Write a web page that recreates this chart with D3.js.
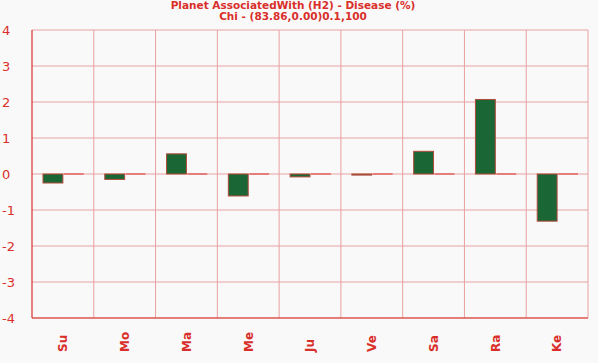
<!DOCTYPE html>
<html>
<head>
<meta charset="utf-8">
<script src="https://cdn.jsdelivr.net/npm/d3@7/dist/d3.min.js"></script>
<style>
  body { margin: 0; background: #f9f9f9; }
  svg { display: block; }
</style>
</head>
<body>
<div id="chart"></div>
<script>
// chart data
const planets = ["Su", "Mo", "Ma", "Me", "Ju", "Ve", "Sa", "Ra", "Ke"];
const diseaseValues = [-0.25, -0.15, 0.56, -0.61, -0.08, -0.03, 0.63, 2.07, -1.31];
const baselineValues = [0, 0, 0, 0, 0, 0, 0, 0, 0];
const yTicks = [-4, -3, -2, -1, 0, 1, 2, 3, 4];
const titleLines = ["Planet AssociatedWith (H2) - Disease (%)", "Chi - (83.86,0.00)0.1,100"];

const width = 598, height = 363;
const margin = {top: 30, right: 10, bottom: 45, left: 32};
const plotW = width - margin.left - margin.right;
const plotH = height - margin.top - margin.bottom;

const red = "#d92f2a";

const svg = d3.select("#chart").append("svg")
  .attr("width", width)
  .attr("height", height)
  .style("font-family", "'DejaVu Sans', Verdana, sans-serif");

svg.append("rect").attr("width", width).attr("height", height).attr("fill", "#f9f9f9");

// title
svg.selectAll(".title")
  .data(titleLines)
  .enter().append("text")
  .attr("x", 293)
  .attr("y", (d, i) => 8.5 + i * 11.5)
  .attr("text-anchor", "middle")
  .attr("font-size", "10.5px")
  .attr("font-weight", "bold")
  .attr("fill", red)
  .text(d => d);

const main = svg.append("g")
  .attr("transform", "translate(" + margin.left + "," + margin.top + ")");

const xScale = d3.scaleBand()
  .domain(planets)
  .range([0, plotW]);

const yScale = d3.scaleLinear()
  .domain([-4, 4])
  .range([plotH, 0]);

// grid lines
main.append("g")
  .selectAll("line")
  .data(yTicks)
  .enter().append("line")
  .attr("x1", 0).attr("x2", plotW)
  .attr("y1", d => yScale(d)).attr("y2", d => yScale(d))
  .attr("stroke", "#eaa0a0")
  .attr("stroke-width", 1);

main.append("g")
  .selectAll("line")
  .data(planets)
  .enter().append("line")
  .attr("x1", d => xScale(d) + xScale.step())
  .attr("x2", d => xScale(d) + xScale.step())
  .attr("y1", 0).attr("y2", plotH)
  .attr("stroke", "#eaa0a0")
  .attr("stroke-width", 1);

// y axis labels (left aligned at the page edge)
svg.append("g")
  .selectAll("text")
  .data(yTicks)
  .enter().append("text")
  .attr("x", 2)
  .attr("y", d => margin.top + yScale(d))
  .attr("dy", "0.36em")
  .attr("font-size", "13px")
  .attr("fill", red)
  .text(d => d);

// bars
const inner = d3.scaleBand()
  .domain(["disease", "base"])
  .range([11, xScale.bandwidth() - 10])
  .paddingInner(0.05);

const groups = main.selectAll(".grp")
  .data(planets.map((p, i) => ({p: p, v: diseaseValues[i], b: baselineValues[i]})))
  .enter().append("g")
  .attr("transform", d => "translate(" + xScale(d.p) + ",0)");

groups.append("rect")
  .attr("x", inner("disease"))
  .attr("width", inner.bandwidth())
  .attr("y", d => yScale(Math.max(0, d.v)))
  .attr("height", d => Math.max(1, Math.abs(yScale(d.v) - yScale(0))))
  .attr("fill", "#1a6634")
  .attr("stroke", "#b04a3a")
  .attr("stroke-width", 1);

// second series (all ~0): thin red marks at the zero line
groups.append("rect")
  .attr("x", inner("base"))
  .attr("width", inner.bandwidth())
  .attr("y", d => yScale(Math.max(0, d.b)) - 0.5)
  .attr("height", d => Math.max(1, Math.abs(yScale(d.b) - yScale(0))))
  .attr("fill", red);

// axis lines
main.append("line")
  .attr("x1", 0).attr("x2", 0).attr("y1", 0).attr("y2", plotH)
  .attr("stroke", red).attr("stroke-width", 1.2);
main.append("line")
  .attr("x1", 0).attr("x2", plotW).attr("y1", plotH).attr("y2", plotH)
  .attr("stroke", red).attr("stroke-width", 1.2);

// x labels, rotated
main.append("g")
  .selectAll("text")
  .data(planets)
  .enter().append("text")
  .attr("transform", d => "translate(" + (xScale(d) + xScale.bandwidth() / 2) + "," + (plotH + 34) + ") rotate(-90)")
  .attr("dy", "0.36em")
  .attr("text-anchor", "start")
  .attr("font-size", "12px")
  .attr("font-weight", "bold")
  .attr("fill", red)
  .text(d => d);
</script>
</body>
</html>
